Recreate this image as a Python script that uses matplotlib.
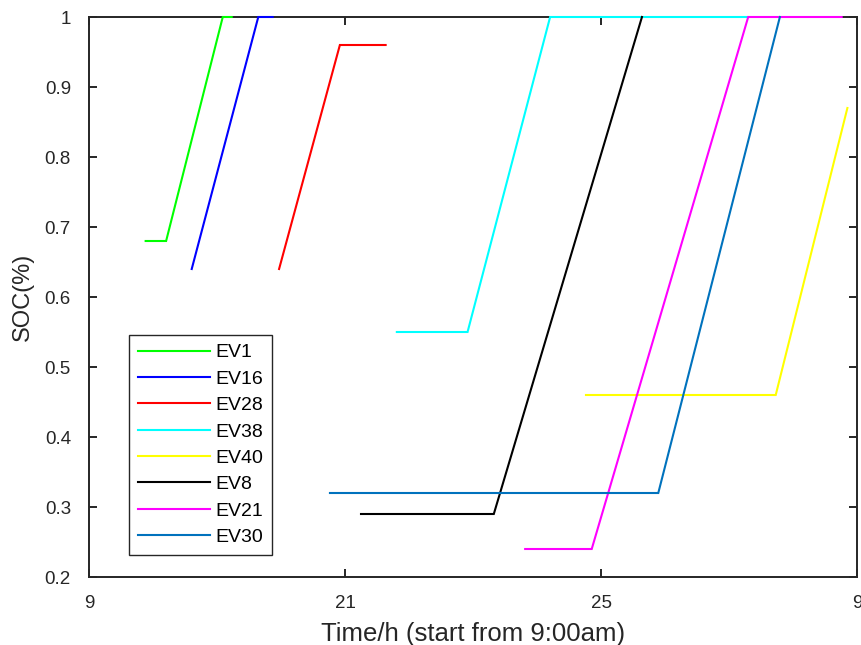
import matplotlib
matplotlib.use("Agg")
import matplotlib.pyplot as plt

plt.rcParams['font.family'] = ['Liberation Sans', 'DejaVu Sans']

# Time axis: hours elapsed since 9:00am (0..24)
tick_pos = [0, 8, 16, 24]
tick_labels = ['9', '21', '25', '9']

names = ['EV1', 'EV16', 'EV28', 'EV38', 'EV40', 'EV8', 'EV21', 'EV30']
colors = ['#00FF00', '#0000FF', '#FF0000', '#00FFFF', '#FFFF00', '#000000', '#FF00FF', '#0072BD']

ev1_t = [1.77, 2.41, 4.18, 4.46]
ev1_soc = [0.68, 0.68, 1.0, 1.0]
ev16_t = [3.21, 5.29, 5.74]
ev16_soc = [0.64, 1.0, 1.0]
ev28_t = [5.94, 7.84, 9.27]
ev28_soc = [0.64, 0.96, 0.96]
ev38_t = [9.62, 11.83, 14.41, 20.59]
ev38_soc = [0.55, 0.55, 1.0, 1.0]
ev40_t = [15.53, 21.46, 23.70]
ev40_soc = [0.46, 0.46, 0.87]
ev8_t = [8.50, 12.65, 17.28]
ev8_soc = [0.29, 0.29, 1.0]
ev21_t = [13.63, 15.71, 20.60, 23.52]
ev21_soc = [0.24, 0.24, 1.0, 1.0]
ev30_t = [7.53, 17.79, 21.59]
ev30_soc = [0.32, 0.32, 1.0]

series = [(ev1_t, ev1_soc), (ev16_t, ev16_soc), (ev28_t, ev28_soc), (ev38_t, ev38_soc),
          (ev40_t, ev40_soc), (ev8_t, ev8_soc), (ev21_t, ev21_soc), (ev30_t, ev30_soc)]

fig = plt.figure(figsize=(8.61, 6.45), dpi=100)
ax = fig.add_axes([89 / 861, 1 - 577 / 645, 768 / 861, 560 / 645])

dark = '#262626'
for sp in ax.spines.values():
    sp.set_color(dark)
    sp.set_linewidth(1.4)
    sp.set_zorder(1)

for (t, s), name, c in zip(series, names, colors):
    ax.plot(t, s, color=c, linewidth=1.5, label=name, solid_joinstyle='miter',
            clip_on=False, zorder=3)

ax.set_xlim(0, 24)
ax.set_ylim(0.2, 1.0)
ax.set_xticks(tick_pos)
ax.set_xticklabels(tick_labels)
ax.set_yticks([0.2, 0.3, 0.4, 0.5, 0.6, 0.7, 0.8, 0.9, 1.0])
ax.set_yticklabels(['0.2', '0.3', '0.4', '0.5', '0.6', '0.7', '0.8', '0.9', '1'])

ax.tick_params(direction='in', length=6, width=1.4, colors=dark, labelsize=13.5,
               top=True, right=True)
ax.tick_params(axis='x', pad=13)
ax.tick_params(axis='y', pad=13)

ax.set_xlabel('Time/h (start from 9:00am)', fontsize=18.5, color=dark, labelpad=7)
ax.set_ylabel('SOC(%)', fontsize=17, color=dark, labelpad=8)

leg = ax.legend(loc='upper left', bbox_to_anchor=(0.0525, 0.432), fontsize=14,
                handlelength=3.7, handletextpad=0.3, labelspacing=0.45,
                borderpad=0.45, borderaxespad=0, fancybox=False, framealpha=1)
leg.get_frame().set_edgecolor(dark)
leg.get_frame().set_linewidth(1.0)
leg.set_zorder(5)

fig.savefig('out.png', dpi=100)
